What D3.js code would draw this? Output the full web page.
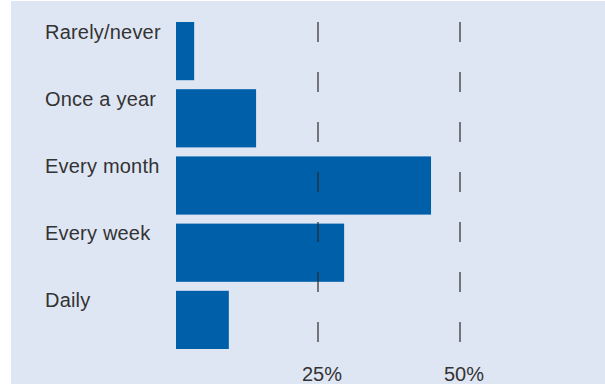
<!DOCTYPE html>
<html><head><meta charset="utf-8">
<script src="https://cdn.jsdelivr.net/npm/d3@7"></script>
<style>body{margin:0;background:#fff}svg{display:block}</style>
</head><body>
<svg id="c" width="605" height="385"></svg>
<script>
const categories = ["Rarely/never","Once a year","Every month","Every week","Daily"];
const values = [3.2, 14.1, 44.9, 29.6, 9.3];
const tickValues = [25, 50];
const tickLabels = ["25%","50%"];

const svg = d3.select("#c");
svg.append("rect").attr("x",11).attr("y",1).attr("width",594).attr("height",383).attr("fill","#dfe6f3");

const x = d3.scaleLinear().domain([0,50]).range([176,460]);
const y = d3.scaleBand().domain(categories).range([22,349]).paddingInner(0.134).paddingOuter(0);

svg.selectAll("rect.bar").data(categories).enter().append("rect").attr("class","bar")
  .attr("x",x(0)).attr("y",d=>y(d))
  .attr("width",(d,i)=>x(values[i])-x(0))
  .attr("height",y.bandwidth())
  .attr("fill","#005fa9");

const grid = svg.append("g");
grid.selectAll("line").data(tickValues).enter().append("line")
  .attr("x1",d=>x(d)).attr("x2",d=>x(d))
  .attr("y1",22).attr("y2",343)
  .attr("stroke","#2a2a2a").attr("stroke-width",1.2)
  .attr("stroke-dasharray","20,30");

svg.selectAll("text.tick").data(tickValues).enter().append("text").attr("class","tick")
  .attr("x",d=>x(d)+4).attr("y",381)
  .attr("text-anchor","middle")
  .attr("font-family","Liberation Sans, Arial, sans-serif")
  .attr("font-size",20).attr("fill","#333")
  .text((d,i)=>tickLabels[i]);

svg.selectAll("text.cat").data(categories).enter().append("text").attr("class","cat")
  .attr("x",45).attr("y",d=>y(d)+16.5)
  .attr("font-family","Liberation Sans, Arial, sans-serif")
  .attr("font-size",20).attr("fill","#333")
  .attr("letter-spacing",0.2)
  .text(d=>d);
</script>
</body></html>
